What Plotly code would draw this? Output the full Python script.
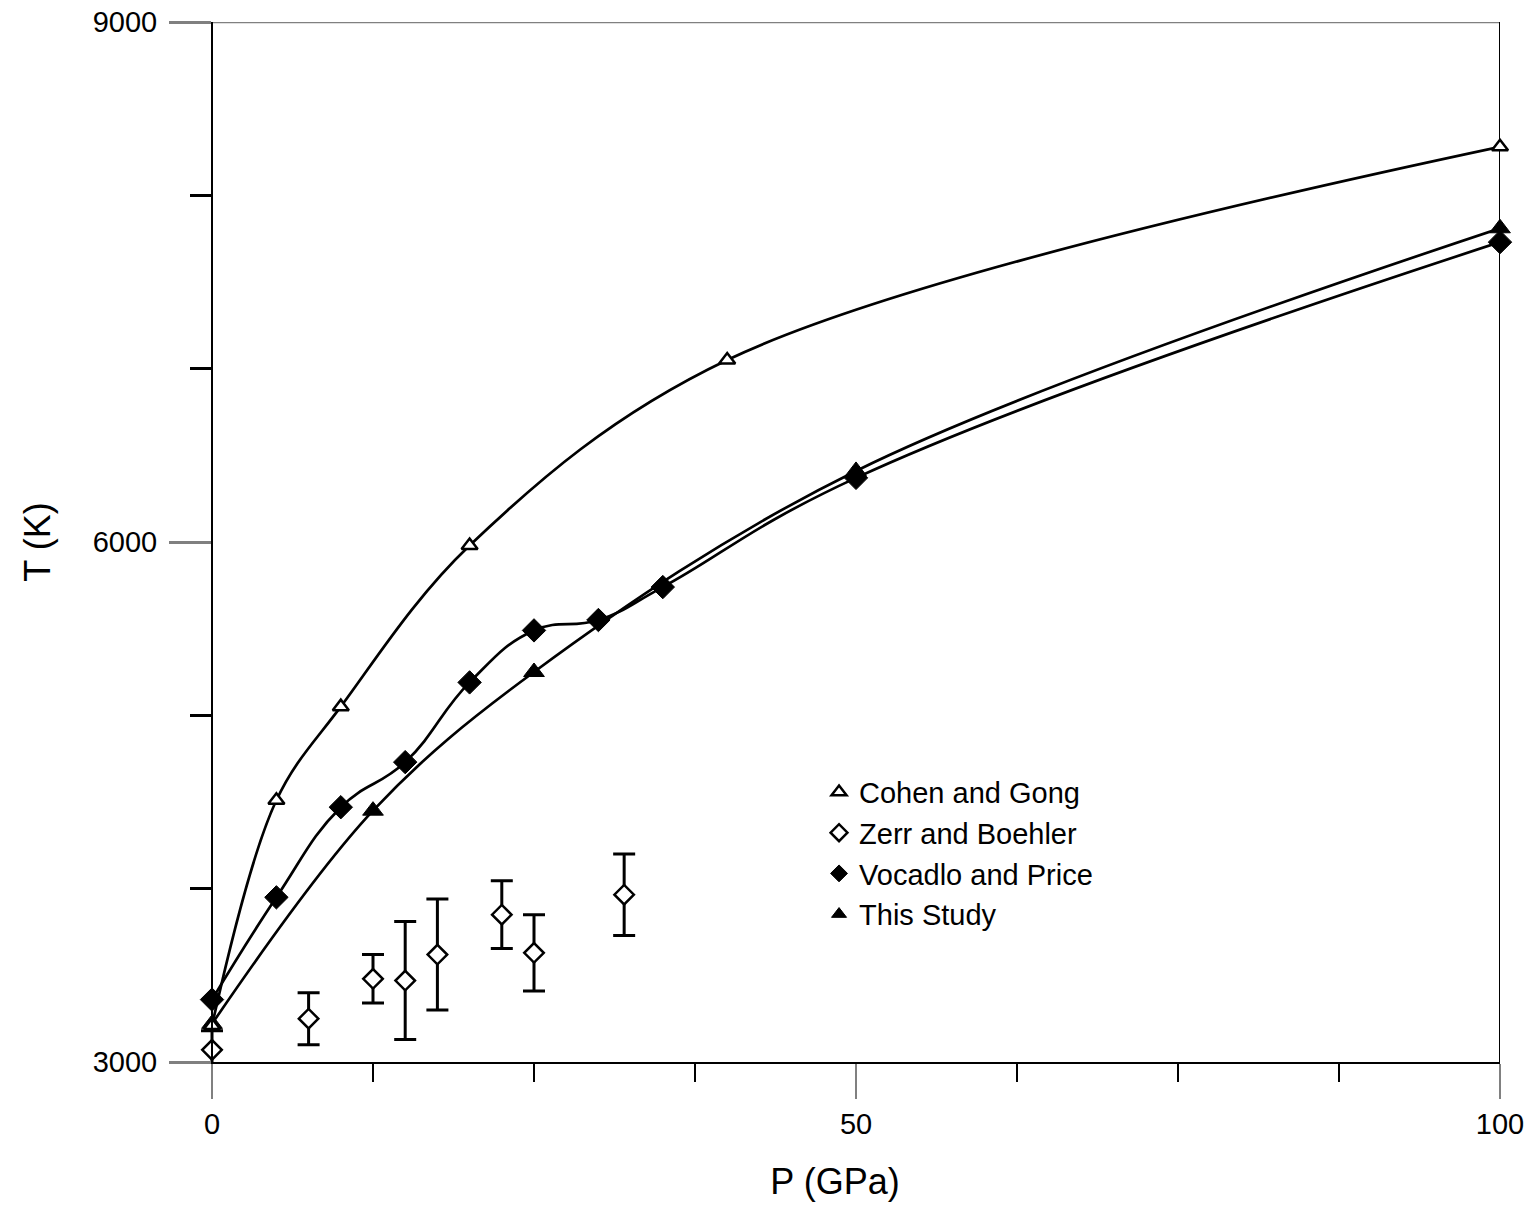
import plotly.graph_objects as go

# Melting temperature of iron vs pressure
cohen_p = [0, 5, 10, 20, 40, 100]
cohen_t = [3210, 4510, 5050, 5980, 7050, 8280]

zerr_p = [0, 7.5, 12.5, 15, 17.5, 22.5, 25, 32]
zerr_t = [3070, 3250, 3480, 3470, 3620, 3850, 3630, 3965]
zerr_err = [110, 150, 140, 340, 320, 195, 220, 235]

vocadlo_p = [0, 5, 10, 15, 20, 25, 30, 35, 50, 100]
vocadlo_t = [3360, 3950, 4470, 4730, 5190, 5490, 5550, 5740, 6370, 7730]

study_p = [0, 12.5, 25, 50, 100]
study_t = [3220, 4450, 5250, 6410, 7810]

x_tickvals = [0, 50, 100]
x_ticktext = ["0", "50", "100"]
y_tickvals = [3000, 6000, 9000]
y_ticktext = ["3000", "6000", "9000"]

FONT = "Liberation Sans, Arial, sans-serif"
LINE_W = 2.7

fig = go.Figure()

# data curves (legend entries are added separately as marker-only items)
fig.add_trace(go.Scatter(
    x=study_p, y=study_t, showlegend=False,
    mode="lines+markers", line=dict(color="black", width=LINE_W, shape="spline", smoothing=1.0),
    marker=dict(symbol="triangle-up", size=18, color="black", line=dict(color="black", width=1)),
    cliponaxis=False,
))

fig.add_trace(go.Scatter(
    x=vocadlo_p, y=vocadlo_t, showlegend=False,
    mode="lines+markers", line=dict(color="black", width=LINE_W, shape="spline", smoothing=1.25),
    marker=dict(symbol="diamond", size=18, color="black", line=dict(color="black", width=1)),
    cliponaxis=False,
))

fig.add_trace(go.Scatter(
    x=zerr_p, y=zerr_t, showlegend=False,
    mode="markers",
    marker=dict(symbol="diamond", size=15, color="white", line=dict(color="black", width=2.5)),
    error_y=dict(type="data", array=zerr_err, visible=True, color="black", thickness=3, width=11),
    cliponaxis=True,
))

fig.add_trace(go.Scatter(
    x=cohen_p, y=cohen_t, showlegend=False,
    mode="lines+markers", line=dict(color="black", width=LINE_W, shape="spline", smoothing=1.0),
    marker=dict(symbol="triangle-up", size=14, color="white", line=dict(color="black", width=2.5)),
    cliponaxis=False,
))

# legend items (markers only)
legend_items = [
    ("Cohen and Gong", "triangle-up", "white", 2.5),
    ("Zerr and Boehler", "diamond", "white", 2.5),
    ("Vocadlo and Price", "diamond", "black", 1),
    ("This Study", "triangle-up", "black", 1),
]
for name, sym, fill, lw in legend_items:
    fig.add_trace(go.Scatter(
        x=[None], y=[None], name=name, mode="markers",
        marker=dict(symbol=sym, size=13, color=fill, line=dict(color="black", width=lw)),
    ))

# frame lines: top at 9000 and right edge at 100 GPa
fig.add_shape(type="line", xref="paper", yref="y", x0=0, x1=1, y0=9000, y1=9000,
              line=dict(color="#808080", width=2.5), layer="below")
fig.add_shape(type="line", xref="x", yref="y", x0=100, x1=100, y0=3000, y1=9000,
              line=dict(color="black", width=2), layer="below")

x_min = -42 / 12.88
y_pos = (0 - x_min) / (100 - x_min)

fig.update_layout(
    width=1531, height=1210,
    margin=dict(l=170, r=31, t=22, b=148),
    paper_bgcolor="white", plot_bgcolor="white",
    font=dict(family=FONT, color="black"),
    showlegend=True,
    legend=dict(
        x=0.488, y=0.284, xanchor="left", yanchor="top",
        bgcolor="rgba(0,0,0,0)", font=dict(size=29, family=FONT, color="black"),
        traceorder="normal", itemsizing="trace",
    ),
    xaxis=dict(
        range=[x_min, 100], showgrid=False, zeroline=False, automargin=False,
        showline=True, linecolor="black", linewidth=2,
        tickmode="array", tickvals=x_tickvals, ticktext=x_ticktext,
        ticks="outside", ticklen=35, tickwidth=2, tickcolor="#808080",
        ticklabelstandoff=0,
        tickfont=dict(size=29, family=FONT, color="black"),
        minor=dict(tick0=0, dtick=12.5, ticks="outside", ticklen=18, tickwidth=2, tickcolor="black"),
        title=dict(text="P (GPa)", font=dict(size=36, family=FONT, color="black"), standoff=30),
    ),
    yaxis=dict(
        range=[3000, 9000], showgrid=False, zeroline=False, automargin=False,
        anchor="free", position=y_pos,
        showline=True, linecolor="black", linewidth=2,
        tickmode="array", tickvals=y_tickvals, ticktext=y_ticktext,
        ticks="outside", ticklen=42, tickwidth=2.5, tickcolor="#808080",
        ticklabelstandoff=6,
        tickfont=dict(size=29, family=FONT, color="black"),
        minor=dict(tick0=0, dtick=1000, ticks="outside", ticklen=21, tickwidth=3, tickcolor="black"),
        title=dict(text="T (K)", font=dict(size=36, family=FONT, color="black"), standoff=30),
    ),
)

fig.write_html("out.html")
